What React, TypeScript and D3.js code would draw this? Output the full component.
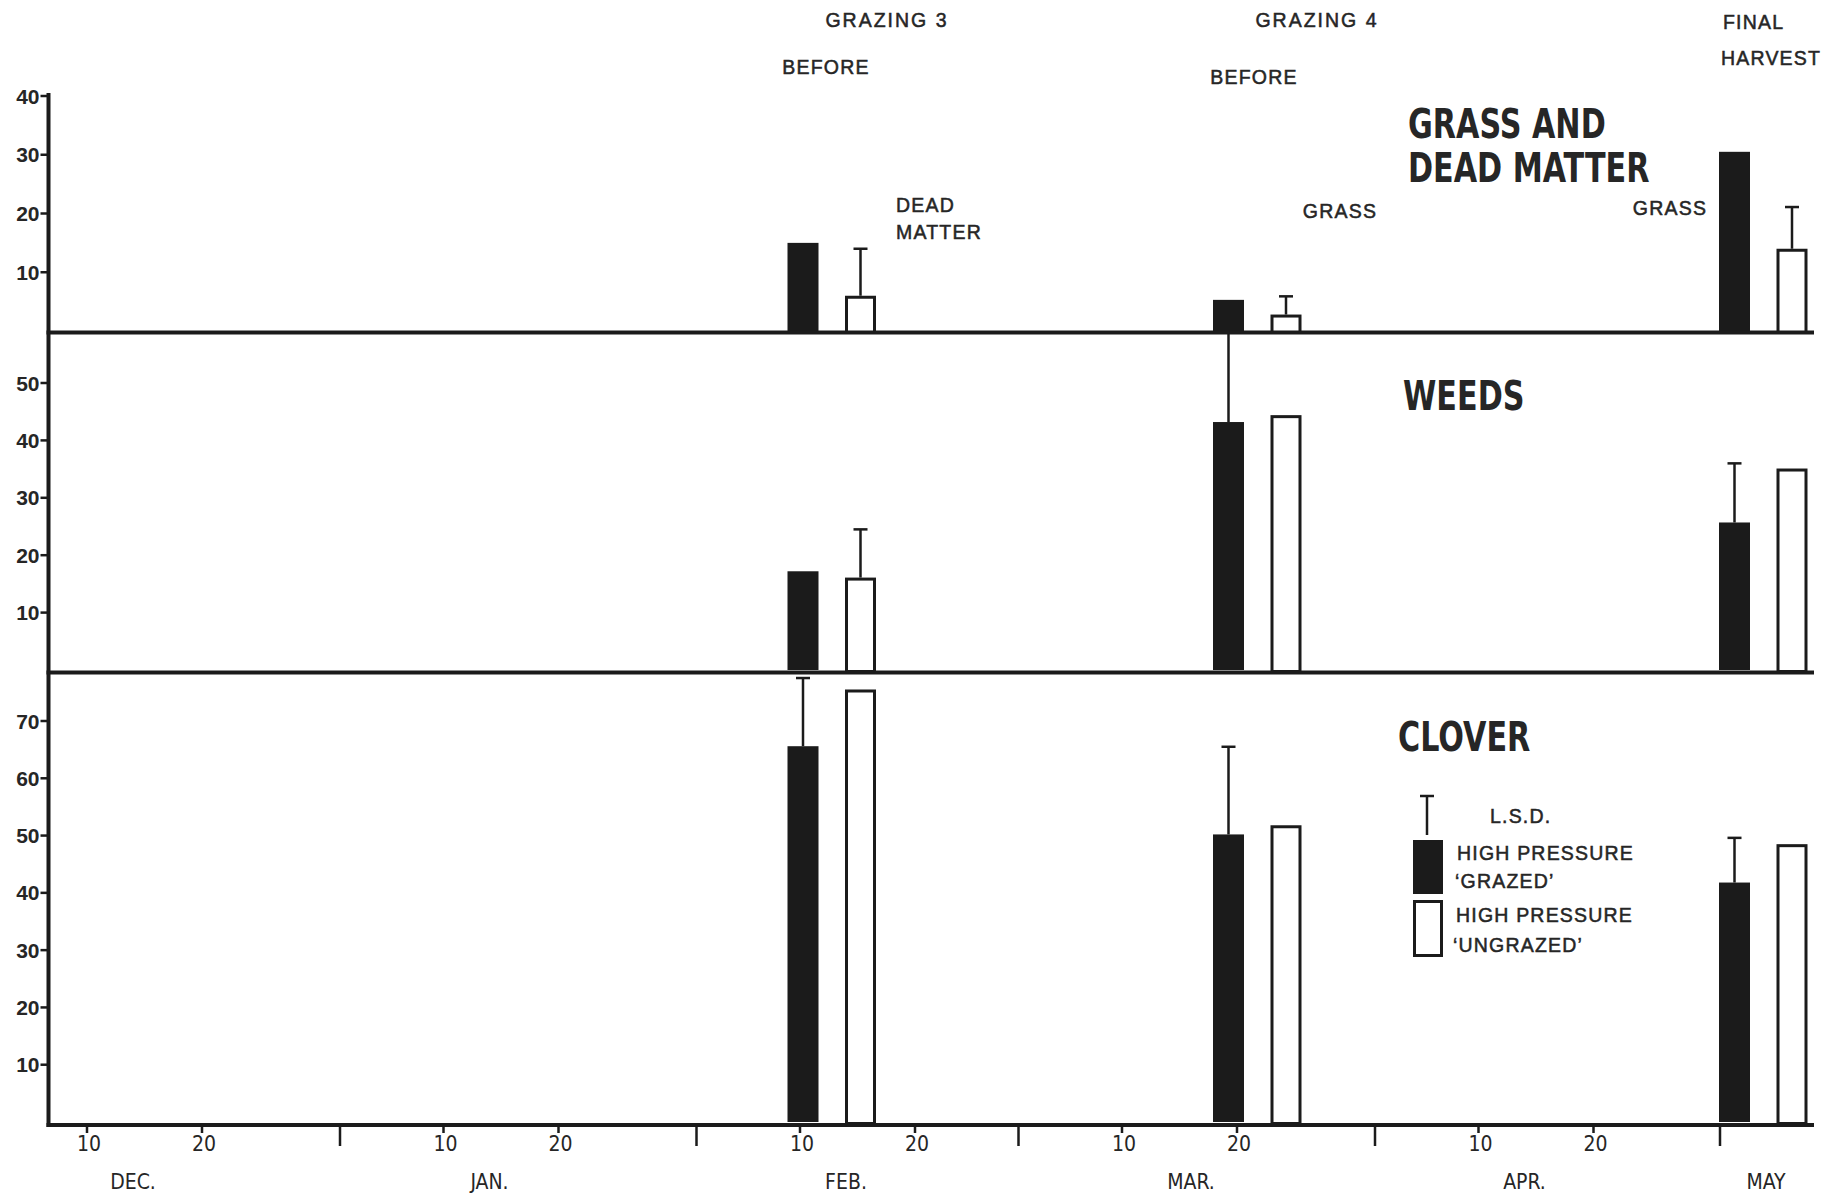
import { useEffect, useRef } from "react";
import * as d3 from "d3";

const WIDTH = 1839;
const HEIGHT = 1195;

const parse = d3.timeParse("%Y-%m-%d");

// sampling dates (left edge of each bar)
const grazedDates = ["1975-02-09", "1975-03-18", "1975-05-01"];
const ungrazedDates = ["1975-02-14", "1975-03-23", "1975-05-06"];

// GRASS AND DEAD MATTER
const grassGrazed = [15, 5.3, 30.5];
const grassUngrazed = [6, 2.8, 14];
const grassLsd = [14, 5.9, 21.1];
const grassLsdOn = ["ungrazed", "ungrazed", "ungrazed"];

// WEEDS
const weedsGrazed = [17.2, 43.2, 25.7];
const weedsUngrazed = [16.1, 44.4, 35.1];
const weedsLsd = [24.5, 59, 36];
const weedsLsdOn = ["ungrazed", "grazed", "grazed"];

// CLOVER
const cloverGrazed = [65.6, 50.2, 41.8];
const cloverUngrazed = [75.5, 51.8, 48.5];
const cloverLsd = [77.5, 65.5, 49.6];
const cloverLsdOn = ["grazed", "grazed", "grazed"];

const grassTicks = [10, 20, 30, 40];
const weedsTicks = [10, 20, 30, 40, 50];
const cloverTicks = [10, 20, 30, 40, 50, 60, 70];

const dayTicks = [
  "1974-12-10", "1974-12-20", "1975-01-10", "1975-01-20", "1975-02-10",
  "1975-02-20", "1975-03-10", "1975-03-20", "1975-04-10", "1975-04-20",
];
const monthTicks = ["1975-01-01", "1975-02-01", "1975-03-01", "1975-04-01", "1975-05-01"];
const monthNames = ["DEC.", "JAN.", "FEB.", "MAR.", "APR.", "MAY"];
const monthNameDates = ["1974-12-14", "1975-01-14", "1975-02-14", "1975-03-16", "1975-04-14", "1975-05-05"];

const INK = "#1b1b1b";
const TEXT = "#262626";
const SANS = "'Liberation Sans', Arial, sans-serif";
const NARROW = "'Liberation Sans Narrow', 'DejaVu Sans Condensed', 'Liberation Sans', sans-serif";

const AXIS_X = 48.5;
const RIGHT_X = 1814;
const BAR_W = 31;
const BAR_SHIFT = -1;

export default function App() {
  const svgRef = useRef<SVGSVGElement>(null);

  useEffect(() => {
    if (!svgRef.current) return;
    const svg = d3.select(svgRef.current);
    svg.selectAll("*").remove();

    svg.append("rect").attr("width", WIDTH).attr("height", HEIGHT).attr("fill", "#fff");

    const x = d3.scaleTime()
      .domain([parse("1975-01-01")!, parse("1975-05-01")!])
      .range([340, 1720]);

    const panels = [
      { name: "grass", grazed: grassGrazed, ungrazed: grassUngrazed, lsd: grassLsd, lsdOn: grassLsdOn,
        ticks: grassTicks, y: d3.scaleLinear().domain([0, 40]).range([331, 96]) },
      { name: "weeds", grazed: weedsGrazed, ungrazed: weedsUngrazed, lsd: weedsLsd, lsdOn: weedsLsdOn,
        ticks: weedsTicks, y: d3.scaleLinear().domain([0, 50]).range([670, 383]) },
      { name: "clover", grazed: cloverGrazed, ungrazed: cloverUngrazed, lsd: cloverLsd, lsdOn: cloverLsdOn,
        ticks: cloverTicks, y: d3.scaleLinear().domain([0, 70]).range([1122, 721]) },
    ];

    const g = svg.append("g");

    // ============ BARS ============
    panels.forEach((p) => {
      const pg = g.append("g").attr("class", `panel-${p.name}`);

      pg.selectAll("rect.grazed")
        .data(p.grazed)
        .join("rect")
        .attr("class", "grazed")
        .attr("x", (_, i) => x(parse(grazedDates[i])!) + BAR_SHIFT)
        .attr("y", (d) => p.y(d))
        .attr("width", BAR_W)
        .attr("height", (d) => p.y(0) - p.y(d))
        .attr("fill", INK);

      pg.selectAll("rect.ungrazed")
        .data(p.ungrazed)
        .join("rect")
        .attr("class", "ungrazed")
        .attr("x", (_, i) => x(parse(ungrazedDates[i])!) + BAR_SHIFT + 1.5)
        .attr("y", (d) => p.y(d) + 1.5)
        .attr("width", BAR_W - 3)
        .attr("height", (d) => p.y(0) - p.y(d))
        .attr("fill", "#fff")
        .attr("stroke", INK)
        .attr("stroke-width", 3);

      // L.S.D. bars
      p.lsd.forEach((v, i) => {
        const on = p.lsdOn[i];
        const date = on === "grazed" ? grazedDates[i] : ungrazedDates[i];
        const base = on === "grazed" ? p.grazed[i] : p.ungrazed[i];
        const cx = x(parse(date)!) + BAR_SHIFT + BAR_W / 2;
        const y0 = p.y(base);
        const y1 = p.y(v);
        pg.append("line")
          .attr("x1", cx).attr("x2", cx)
          .attr("y1", y0).attr("y2", y1)
          .attr("stroke", INK).attr("stroke-width", 2.5);
        if (y1 > 336 || p.name === "grass") {
          pg.append("line")
            .attr("x1", cx - 7).attr("x2", cx + 7)
            .attr("y1", y1).attr("y2", y1)
            .attr("stroke", INK).attr("stroke-width", 2.5);
        }
      });

      // Y ticks
      pg.selectAll("line.ytick")
        .data(p.ticks)
        .join("line")
        .attr("class", "ytick")
        .attr("x1", AXIS_X - 8)
        .attr("x2", AXIS_X)
        .attr("y1", (d) => p.y(d))
        .attr("y2", (d) => p.y(d))
        .attr("stroke", INK)
        .attr("stroke-width", 2.5);

      pg.selectAll("text.ylabel")
        .data(p.ticks)
        .join("text")
        .attr("class", "ylabel")
        .attr("x", AXIS_X - 9)
        .attr("y", (d) => p.y(d))
        .attr("dy", "0.36em")
        .attr("text-anchor", "end")
        .attr("font-family", SANS)
        .attr("font-weight", 700)
        .attr("font-size", 21)
        .attr("fill", TEXT)
        .text((d) => d);
    });

    // ============ FRAME LINES ============
    const frame = g.append("g").attr("class", "frame");
    [332.5, 672.5, 1125].forEach((yy) => {
      frame.append("line")
        .attr("x1", AXIS_X - 2).attr("x2", RIGHT_X)
        .attr("y1", yy).attr("y2", yy)
        .attr("stroke", INK).attr("stroke-width", 4);
    });
    frame.append("line")
      .attr("x1", AXIS_X).attr("x2", AXIS_X)
      .attr("y1", 93).attr("y2", 1127)
      .attr("stroke", INK).attr("stroke-width", 4);

    // ============ X AXIS ============
    const xAxis = g.append("g").attr("class", "x-axis");
    xAxis.selectAll("line.day")
      .data(dayTicks)
      .join("line")
      .attr("class", "day")
      .attr("x1", (d) => x(parse(d)!))
      .attr("x2", (d) => x(parse(d)!))
      .attr("y1", 1125).attr("y2", 1133)
      .attr("stroke", INK).attr("stroke-width", 2.5);
    xAxis.selectAll("line.month")
      .data(monthTicks)
      .join("line")
      .attr("class", "month")
      .attr("x1", (d) => x(parse(d)!))
      .attr("x2", (d) => x(parse(d)!))
      .attr("y1", 1125).attr("y2", 1146)
      .attr("stroke", INK).attr("stroke-width", 2.5);
    xAxis.selectAll("text.day")
      .data(dayTicks)
      .join("text")
      .attr("class", "day")
      .attr("x", (d) => x(parse(d)!) + 2)
      .attr("y", 1151)
      .attr("text-anchor", "middle")
      .attr("font-family", NARROW)
      .attr("font-size", 21)
      .attr("fill", TEXT)
      .text((d) => d3.timeFormat("%-d")(parse(d)!));
    xAxis.selectAll("text.month")
      .data(monthNames)
      .join("text")
      .attr("class", "month")
      .attr("x", (_, i) => x(parse(monthNameDates[i])!))
      .attr("y", 1189)
      .attr("text-anchor", "middle")
      .attr("font-family", NARROW)
      .attr("font-size", 21)
      .attr("fill", TEXT)
      .text((d) => d);

    // ============ ANNOTATIONS ============
    const small = (t: string, xx: number, yy: number, anchor = "middle") =>
      g.append("text")
        .attr("x", xx).attr("y", yy)
        .attr("text-anchor", anchor)
        .attr("font-family", SANS)
        .attr("font-size", 19.5)
        .attr("letter-spacing", 1.2)
        .attr("fill", TEXT)
        .attr("stroke", TEXT)
        .attr("stroke-width", 0.5)
        .text(t);

    small("GRAZING 3", 887, 27).attr("letter-spacing", 2);
    small("BEFORE", 826, 74);
    small("DEAD", 896, 212, "start");
    small("MATTER", 896, 239, "start");
    small("GRAZING 4", 1317, 27).attr("letter-spacing", 2);
    small("BEFORE", 1254, 84);
    small("GRASS", 1340, 218);
    small("FINAL", 1723, 29, "start");
    small("HARVEST", 1721, 65, "start");
    small("GRASS", 1670, 215);

    // big condensed panel titles
    const big = (t: string, xx: number, yy: number) =>
      g.append("text")
        .attr("transform", `translate(${xx},${yy}) scale(0.84,1)`)
        .attr("font-family", NARROW)
        .attr("font-weight", 700)
        .attr("font-size", 40)
        .attr("fill", TEXT)
        .text(t);

    big("GRASS AND", 1408, 138);
    big("DEAD MATTER", 1408, 182);
    big("WEEDS", 1403, 410);
    big("CLOVER", 1398, 751);

    // ============ LEGEND ============
    const legend = g.append("g").attr("class", "legend");
    legend.append("line")
      .attr("x1", 1427).attr("x2", 1427).attr("y1", 796).attr("y2", 835)
      .attr("stroke", INK).attr("stroke-width", 2.5);
    legend.append("line")
      .attr("x1", 1420).attr("x2", 1434).attr("y1", 796).attr("y2", 796)
      .attr("stroke", INK).attr("stroke-width", 2.5);
    legend.append("rect")
      .attr("x", 1413).attr("y", 840).attr("width", 30).attr("height", 54)
      .attr("fill", INK);
    legend.append("rect")
      .attr("x", 1414.5).attr("y", 901.5).attr("width", 27).attr("height", 54)
      .attr("fill", "#fff").attr("stroke", INK).attr("stroke-width", 3);

    small("L.S.D.", 1490, 823, "start");
    small("HIGH PRESSURE", 1457, 860, "start");
    small("\u2018GRAZED\u2019", 1455, 888, "start");
    small("HIGH PRESSURE", 1456, 922, "start");
    small("\u2018UNGRAZED\u2019", 1453, 952, "start");
  }, []);

  return (
    <div style={{ position: "absolute", left: 0, top: 0, width: WIDTH, height: HEIGHT, background: "#fff" }}>
      <svg ref={svgRef} width={WIDTH} height={HEIGHT} />
    </div>
  );
}
